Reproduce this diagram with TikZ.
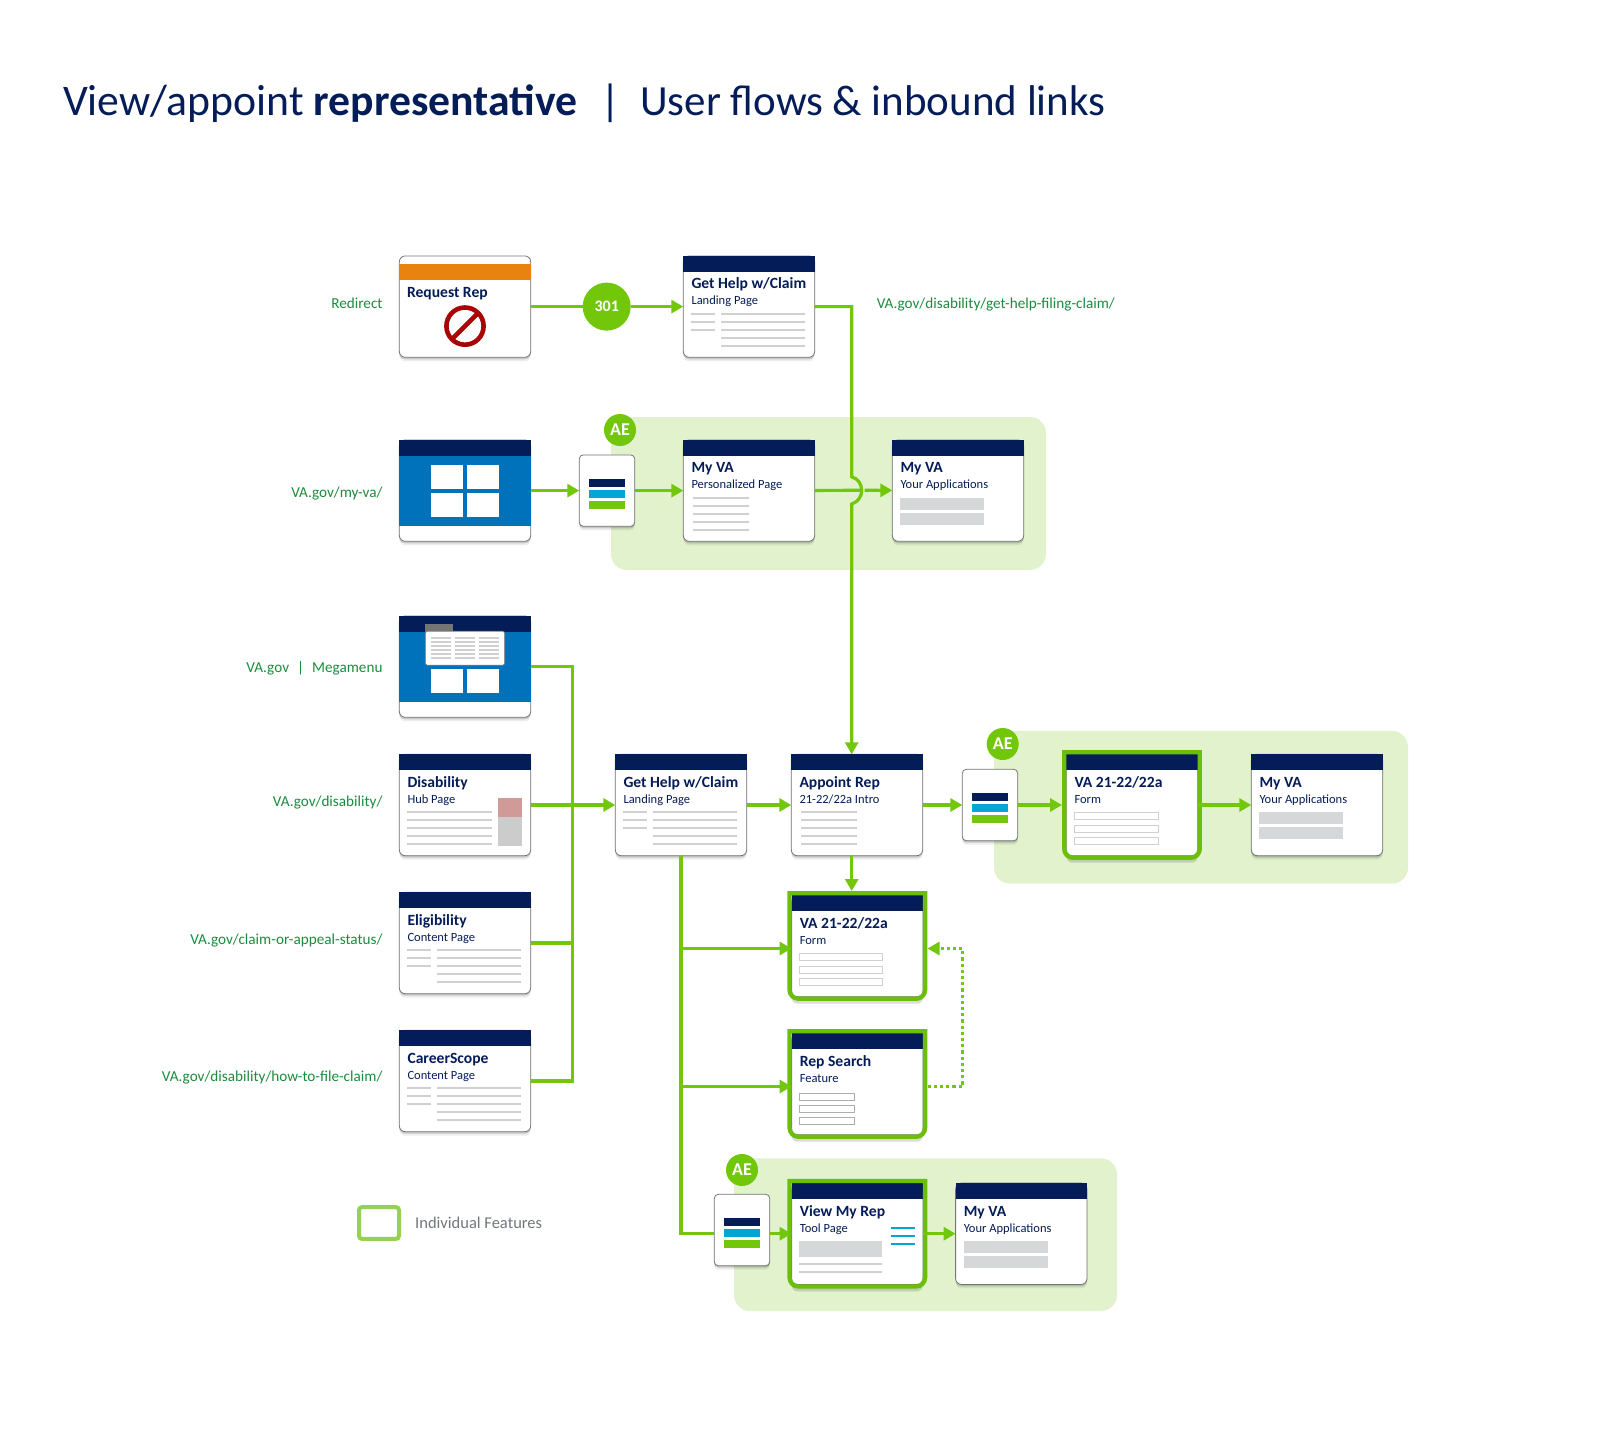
\documentclass[tikz,border=0pt]{standalone}
\usepackage{fontspec}
\setmainfont{Carlito}
\usetikzlibrary{arrows.meta,shadows}
\definecolor{navy}{HTML}{041C57}
\definecolor{linkgreen}{HTML}{72C70B}
\definecolor{framegreen}{HTML}{6BBF0B}
\definecolor{legendgreen}{HTML}{94D352}
\definecolor{panelgreen}{HTML}{E1F2CD}
\definecolor{urlgreen}{HTML}{1A8C3C}
\definecolor{cardline}{HTML}{757575}
\definecolor{textgrey}{HTML}{D0D0D0}
\definecolor{blockgrey}{HTML}{D6D7D9}
\definecolor{heroblue}{HTML}{0071BB}
\definecolor{barcyan}{HTML}{02A6D3}
\definecolor{alertorange}{HTML}{E8830F}
\definecolor{stopred}{HTML}{A90505}
\definecolor{sidepink}{HTML}{D09A98}
\definecolor{sidegrey}{HTML}{CCCCCC}
\definecolor{legendtext}{HTML}{71767A}

% header bar and the two texts of a card
\newcommand{\cardhead}[3]{
  \fill[navy] (#1.north west) rectangle ([shift={(0,16)}]#1.north east);
  \node[cardtitle] (#1-title) at ([shift={(8,33)}]#1.north west) {#2};
  \node[cardsub] (#1-sub) at ([shift={(8,49)}]#1.north west) {#3};
}
\newcommand{\textlines}[4]{
  \foreach \ly in {#4} {
    \draw[textline] ([shift={(#2,\ly)}]#1.north west) -- ([shift={(#3,\ly)}]#1.north west);
  }
}
\newcommand{\landinglines}[1]{
  \textlines{#1}{8}{32}{58,66,74}
  \textlines{#1}{38}{122}{58,66,74,82,90}
}
\newcommand{\formboxes}[4]{
  \foreach \ly in {#4} {
    \draw[#3] ([shift={(8,\ly)}]#1.north west) rectangle ([shift={(#2,\ly+7.4)}]#1.north west);
  }
}
\newcommand{\greyblocks}[1]{
  \fill[blockgrey] ([shift={(8,58)}]#1.north west) rectangle ([shift={(92,70)}]#1.north west);
  \fill[blockgrey] ([shift={(8,73)}]#1.north west) rectangle ([shift={(92,85)}]#1.north west);
}
\newcommand{\navstack}[1]{
  \fill[navy] ([shift={(9.7,23.7)}]#1.north west) rectangle ([shift={(45.7,31.7)}]#1.north west);
  \fill[barcyan] ([shift={(9.7,34.7)}]#1.north west) rectangle ([shift={(45.7,42.7)}]#1.north west);
  \fill[linkgreen] ([shift={(9.7,45.7)}]#1.north west) rectangle ([shift={(45.7,53.7)}]#1.north west);
}
\newcommand{\featureframe}[1]{
  \draw[frameline] ([shift={(-2.1,-2.1)}]#1.north west) [rounded corners=9pt] -- ([shift={(-2.1,2.1)}]#1.south west)
    -- ([shift={(2.1,2.1)}]#1.south east) [sharp corners] -- ([shift={(2.1,-2.1)}]#1.north east) -- cycle;
}
\newcommand{\heroblock}[1]{
  \fill[navy] (#1.north west) rectangle ([shift={(0,16)}]#1.north east);
  \fill[heroblue] ([shift={(0,16)}]#1.north west) rectangle ([shift={(0,86)}]#1.north east);
}

\begin{document}
\begin{tikzpicture}[
  x=1pt, y=-1pt,
  node distance=138pt,
  card/.style={draw=cardline, fill=white, line width=0.8pt, rounded corners=6pt,
               minimum width=131.4pt, minimum height=101.4pt, inner sep=0pt, outer sep=0pt,
               drop shadow={shadow xshift=0pt, shadow yshift=-2pt, opacity=0.16, fill=black},
               drop shadow={shadow xshift=0pt, shadow yshift=-4pt, opacity=0.07, fill=black}},
  featurecard/.style={card, drop shadow={shadow xshift=0pt, shadow yshift=-7pt, opacity=0.14, fill=black}},
  navcard/.style={card, minimum width=55.4pt, minimum height=71.4pt, rounded corners=4pt},
  panel/.style={fill=panelgreen, rounded corners=16pt, inner sep=0pt},
  badge/.style={circle, fill=linkgreen, text=white, inner sep=0pt, minimum size=32pt,
                font=\fontsize{18}{20}\selectfont\bfseries},
  cardtitle/.style={anchor=base west, inner sep=0pt, text=navy, font=\fontsize{15.6}{18}\selectfont\bfseries},
  cardsub/.style={anchor=base west, inner sep=0pt, text=navy, font=\fontsize{12.5}{15}\selectfont},
  urllabel/.style={inner sep=0pt, text=urlgreen, font=\fontsize{15.2}{18}\selectfont},
  pagetitle/.style={anchor=base west, inner sep=0pt, text=navy, font=\fontsize{43.7}{46}\selectfont},
  textline/.style={textgrey, line width=2pt},
  frameline/.style={framegreen, line width=4.3pt},
  link/.style={linkgreen, line width=3.2pt},
  arrow/.style={link, -{Triangle[length=12pt,width=13pt]}},
  dotarrow/.style={arrow, dash pattern=on 3.2pt off 3pt}
]
\useasboundingbox (0,0) rectangle (1600,1450);

% title
\node[pagetitle] (titleleft) at (63,115.5) {View/appoint \textbf{representative}};
\node[pagetitle] (titlebar) at (600,115.5) {|};
\node[pagetitle, font=\fontsize{43}{46}\selectfont] (titleright) at (640,115.5) {User flows \& inbound links};

% green panels
\node[panel, minimum width=435pt, minimum height=153pt] (panelmyva) at (828.5,493.5) {};
\node[panel, minimum width=414pt, minimum height=152.7pt] (panelform) at (1201,807.3) {};
\node[panel, minimum width=383pt, minimum height=152.7pt] (paneltool) at (925.5,1234.7) {};

% row of the redirect
\node[card] (request) at (465,306.6) {};
\node[card, right of=request, node distance=284pt] (gethelptop) {};
\fill[alertorange] ([shift={(0,8)}]request.north west) rectangle ([shift={(0,24)}]request.north east);
\node[cardtitle] (request-title) at ([shift={(7.5,42)}]request.north west) {Request Rep};
\draw[stopred, line width=4.6pt] ([shift={(0,19.5)}]request.center) circle (18.6);
\draw[stopred, line width=4.6pt] ([shift={(13,6.5)}]request.center) -- ([shift={(-13,32.5)}]request.center);
\cardhead{gethelptop}{Get Help w/Claim}{Landing Page}
\landinglines{gethelptop}
\node[circle, fill=linkgreen, text=white, inner sep=0pt, minimum size=48pt,
      font=\fontsize{16}{18}\selectfont\bfseries] (code) at (606.7,306.6) {301};

% row of my va
\node[card] (home) at (465,490.6) {};
\heroblock{home}
\foreach \sx/\sy in {32/25,68/25,32/53,68/53} {
  \fill[white] ([shift={(\sx,\sy)}]home.north west) rectangle ([shift={(\sx+32,\sy+24)}]home.north west);
}
\node[navcard] (navmyva) at (607,490.6) {};
\navstack{navmyva}
\node[badge] (badgemyva) at (620,430) {AE};
\node[card, right of=home, node distance=284pt] (myvaperson) {};
\cardhead{myvaperson}{My VA}{Personalized Page}
\textlines{myvaperson}{10}{65.4}{58,66,74,82,90}
\node[card, right of=myvaperson, node distance=209pt] (myvaapps) {};
\cardhead{myvaapps}{My VA}{Your Applications}
\greyblocks{myvaapps}

% entry pages on the left
\node[card] (megamenu) at (465,666.6) {};
\heroblock{megamenu}
\foreach \sx in {32,68} {
  \fill[white] ([shift={(\sx,53)}]megamenu.north west) rectangle ([shift={(\sx+32,77)}]megamenu.north west);
}
\fill[cardline] ([shift={(26,8)}]megamenu.north west) rectangle ([shift={(54,16)}]megamenu.north west);
\draw[cardline, fill=white, line width=0.8pt, rounded corners=1.5pt] ([shift={(26,15.3)}]megamenu.north west) rectangle ([shift={(105.4,49.3)}]megamenu.north west);
\foreach \cx in {31.4,55.4,79.4} {
  \textlines{megamenu}{\cx}{\cx+20}{22.3,26.3,30.3,34.3,38.3,42.3}
}
\node[card] (disability) at (465,805) {};
\cardhead{disability}{Disability}{Hub Page}
\textlines{disability}{8}{92.4}{58,66,74,82,90}
\fill[sidepink] ([shift={(98.7,43.7)}]disability.north west) rectangle ([shift={(122.7,62.7)}]disability.north west);
\fill[sidegrey] ([shift={(98.7,62.7)}]disability.north west) rectangle ([shift={(122.7,91.7)}]disability.north west);
\node[card, below of=disability] (eligibility) {};
\cardhead{eligibility}{Eligibility}{Content Page}
\landinglines{eligibility}
\node[card, below of=eligibility] (careerscope) {};
\cardhead{careerscope}{CareerScope}{Content Page}
\landinglines{careerscope}

% middle row
\node[card, right of=disability, node distance=216pt] (gethelp) {};
\cardhead{gethelp}{Get Help w/Claim}{Landing Page}
\landinglines{gethelp}
\node[card, right of=gethelp, node distance=176pt] (appoint) {};
\cardhead{appoint}{Appoint Rep}{21-22/22a Intro}
\textlines{appoint}{10}{65.4}{58,66,74,82,90}
\node[navcard, right of=appoint, node distance=133pt] (navform) {};
\navstack{navform}
\node[badge] (badgeform) at (1002.7,744) {AE};
\node[featurecard, right of=navform, node distance=142pt] (formae) {};
\cardhead{formae}{VA 21-22/22a}{Form}
\formboxes{formae}{92}{draw=textgrey, line width=0.9pt}{58,71,83}
\node[card, right of=formae, node distance=185pt] (myvaform) {};
\cardhead{myvaform}{My VA}{Your Applications}
\greyblocks{myvaform}

% feature cards
\node[featurecard] (vaform) at (857.3,946) {};
\cardhead{vaform}{VA 21-22/22a}{Form}
\formboxes{vaform}{91}{draw=textgrey, line width=0.9pt}{58,71,83}
\node[featurecard, below of=vaform] (repsearch) {};
\cardhead{repsearch}{Rep Search}{Feature}
\formboxes{repsearch}{63}{draw=sidegrey!85!black, line width=0.9pt}{60,72,84}
\node[featurecard] (viewrep) at (857.3,1233.7) {};
\cardhead{viewrep}{View My Rep}{Tool Page}
\fill[blockgrey] ([shift={(7,58)}]viewrep.north west) rectangle ([shift={(90,74)}]viewrep.north west);
\textlines{viewrep}{7}{90.7}{81.3,89.3}
\foreach \ly in {45.3,53.3,61.3} {
  \draw[barcyan, line width=2pt] ([shift={(99.3,\ly)}]viewrep.north west) -- ([shift={(123.7,\ly)}]viewrep.north west);
}
\node[navcard] (navtool) at (742,1230) {};
\navstack{navtool}
\node[badge] (badgetool) at (742,1170) {AE};
\node[card, right of=viewrep, node distance=164pt] (myvatool) {};
\cardhead{myvatool}{My VA}{Your Applications}
\greyblocks{myvatool}

\featureframe{formae}
\featureframe{vaform}
\featureframe{repsearch}
\featureframe{viewrep}

% urls
\node[urllabel, anchor=base east] (urlredirect) at (382.7,308) {Redirect};
\node[urllabel, anchor=base east] (urlmyva) at (382.7,497) {VA.gov/my-va/};
\node[urllabel, anchor=base east] (urlmega) at (382.7,672) {VA.gov\hspace{8pt}|\hspace{8pt}Megamenu};
\node[urllabel, anchor=base east] (urldisability) at (382.7,806) {VA.gov/disability/};
\node[urllabel, anchor=base east] (urlstatus) at (382.7,944.3) {VA.gov/claim-or-appeal-status/};
\node[urllabel, anchor=base east] (urlhowto) at (382.7,1081.5) {VA.gov/disability/how-to-file-claim/};
\node[urllabel, anchor=base west] (urlgethelp) at (876.6,308) {VA.gov/disability/get-help-filing-claim/};

% connectors
\coordinate (hoptop) at (851.7,476.7);
\coordinate (hopbottom) at (851.7,504);
\coordinate (hopin) at (860.5,490.3);
\coordinate (hopout) at (864.5,490.3);
\coordinate (leftbus) at (572.7,805);
\coordinate (dotturn) at (962.7,1000);

\draw[link] (request) -- (code);
\draw[arrow] (code) -- (gethelptop);
\draw[arrow] (gethelptop.east) -| (hoptop) .. controls (865,481) and (865,499.7) .. (hopbottom) -- (appoint.north -| hopbottom);
\draw[arrow] (home) -- (navmyva);
\draw[arrow] (navmyva) -- (myvaperson);
\draw[link] (myvaperson) -- (hopin);
\draw[arrow] (hopout) -- (myvaapps);
\draw[link] (megamenu.east) -| (leftbus) |- (careerscope.east);
\draw[link] (eligibility.east) -- (eligibility.east -| leftbus);
\draw[arrow] (disability) -- (gethelp);
\draw[arrow] (gethelp) -- (appoint);
\draw[arrow] (appoint) -- (navform);
\draw[arrow] (navform) -- ([xshift=-4.3pt]formae.west);
\draw[arrow] (formae) -- (myvaform);
\draw[arrow] (appoint.south -| hopbottom) -- ([yshift=4.3pt]vaform.north -| hopbottom);
\draw[arrow] (gethelp.south) |- ([shift={(0,2.5)}]vaform.west);
\draw[arrow] (gethelp.south) |- ([shift={(0,2.5)}]repsearch.west);
\draw[link] (gethelp.south) |- (navtool.west |- viewrep);
\draw[arrow] (navtool.east |- viewrep) -- (viewrep);
\draw[arrow] (viewrep) -- (myvatool);
\draw[dotarrow] ([shift={(4.5,2.5)}]repsearch.east) -| (dotturn) |- ([shift={(4.5,2.5)}]vaform.east);

% legend
\node[draw=legendgreen, line width=4pt, fill=white, rounded corners=3pt, minimum width=40pt, minimum height=31.7pt, inner sep=0pt] (legendbox) at (379,1223) {};
\node[anchor=base west, inner sep=0pt, text=legendtext, font=\fontsize{16.5}{20}\selectfont] (legendtxt) at (415,1228) {Individual Features};
\end{tikzpicture}
\end{document}
